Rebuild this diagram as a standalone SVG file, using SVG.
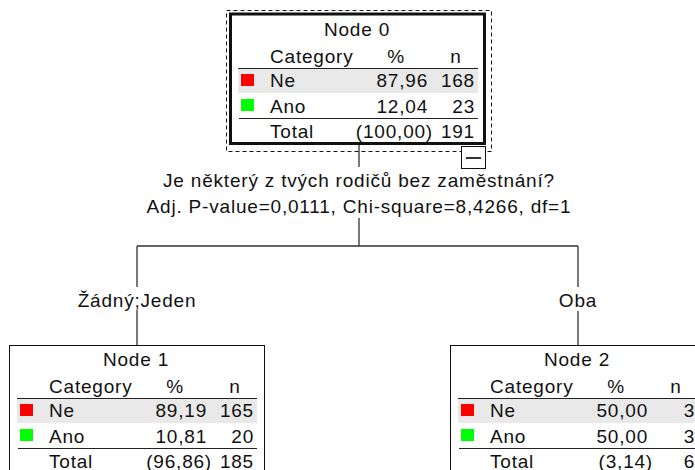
<svg xmlns="http://www.w3.org/2000/svg" width="695" height="470" viewBox="0 0 695 470">
<style>
.t{font-family:"Liberation Sans",Arial,sans-serif;font-size:19px;letter-spacing:0.8px;fill:#111}
.m{text-anchor:middle}
.e{text-anchor:end}
.rule{stroke:#222;stroke-width:1;fill:none}
.bg{fill:#e9e9e9}
.red{fill:#ff0000}
.green{fill:#00ff00}
.conn{stroke:#333;stroke-width:1.3;fill:none}
.box{fill:none;stroke:#111}
</style>
<rect width="695" height="470" fill="#fff"/>
<g id="connectors">
<path class="conn" d="M359 145V167M359 218V246M137 246H578M137 246V287M137 310V346M578 246V287M578 311V346"/>
</g>
<g id="split-label">
<text class="t m" x="359" y="187">Je některý z tvých rodičů bez zaměstnání?</text>
<text class="t m" x="359" y="213">Adj. P-value=0,0111, Chi-square=8,4266, df=1</text>
</g>
<g id="branch-labels">
<text class="t m" x="137" y="307">Žádný;Jeden</text>
<text class="t m" x="578" y="307">Oba</text>
</g>
<g id="node0">
<rect x="226.5" y="10.5" width="265" height="141" fill="none" stroke="#111" stroke-dasharray="4 3"/>
<rect class="box" x="230.5" y="14" width="254" height="129.5" stroke-width="3"/>
<rect x="461.5" y="146.5" width="24" height="22" fill="#fff" stroke="#111"/>
<path d="M466 158H481" stroke="#333" stroke-width="2"/>
<text class="t m" x="357" y="36">Node 0</text>
<text class="t" x="270" y="63">Category</text>
<text class="t m" x="396" y="63">%</text>
<text class="t m" x="456" y="63">n</text>
<rect class="bg" x="238" y="69" width="240" height="24"/>
<path class="rule" d="M238 68.5H478"/>
<rect class="red" x="241" y="74" width="13" height="12"/>
<text class="t" x="270" y="87">Ne</text>
<text class="t e" x="428" y="87">87,96</text>
<text class="t e" x="475" y="87">168</text>
<rect class="green" x="241" y="99" width="13" height="12"/>
<text class="t" x="270" y="112.5">Ano</text>
<text class="t e" x="428" y="112.5">12,04</text>
<text class="t e" x="475" y="112.5">23</text>
<path class="rule" d="M239 118.5H478"/>
<text class="t" x="270" y="138">Total</text>
<text class="t e" x="433" y="138">(100,00)</text>
<text class="t e" x="475" y="138">191</text>
</g>
<g id="node1">
<rect class="box" x="9.5" y="345.5" width="255" height="140"/>
<g transform="translate(-221,330)">
<text class="t m" x="357" y="36">Node 1</text>
<text class="t" x="270" y="63">Category</text>
<text class="t m" x="396" y="63">%</text>
<text class="t m" x="456" y="63">n</text>
<rect class="bg" x="238" y="69" width="240" height="24"/>
<path class="rule" d="M238 68.5H478"/>
<rect class="red" x="241" y="74" width="13" height="12"/>
<text class="t" x="270" y="87">Ne</text>
<text class="t e" x="428" y="87">89,19</text>
<text class="t e" x="475" y="87">165</text>
<rect class="green" x="241" y="99" width="13" height="12"/>
<text class="t" x="270" y="112.5">Ano</text>
<text class="t e" x="428" y="112.5">10,81</text>
<text class="t e" x="475" y="112.5">20</text>
<path class="rule" d="M239 118.5H478"/>
<text class="t" x="270" y="138">Total</text>
<text class="t e" x="433" y="138">(96,86)</text>
<text class="t e" x="475" y="138">185</text>
</g>
</g>
<g id="node2">
<rect class="box" x="450.5" y="345.5" width="260" height="140"/>
<g transform="translate(220,330)">
<text class="t m" x="357" y="36">Node 2</text>
<text class="t" x="270" y="63">Category</text>
<text class="t m" x="396" y="63">%</text>
<text class="t m" x="456" y="63">n</text>
<rect class="bg" x="238" y="69" width="240" height="24"/>
<path class="rule" d="M238 68.5H478"/>
<rect class="red" x="241" y="74" width="13" height="12"/>
<text class="t" x="270" y="87">Ne</text>
<text class="t e" x="428" y="87">50,00</text>
<text class="t e" x="475" y="87">3</text>
<rect class="green" x="241" y="99" width="13" height="12"/>
<text class="t" x="270" y="112.5">Ano</text>
<text class="t e" x="428" y="112.5">50,00</text>
<text class="t e" x="475" y="112.5">3</text>
<path class="rule" d="M239 118.5H478"/>
<text class="t" x="270" y="138">Total</text>
<text class="t e" x="433" y="138">(3,14)</text>
<text class="t e" x="475" y="138">6</text>
</g>
</g>
</svg>
